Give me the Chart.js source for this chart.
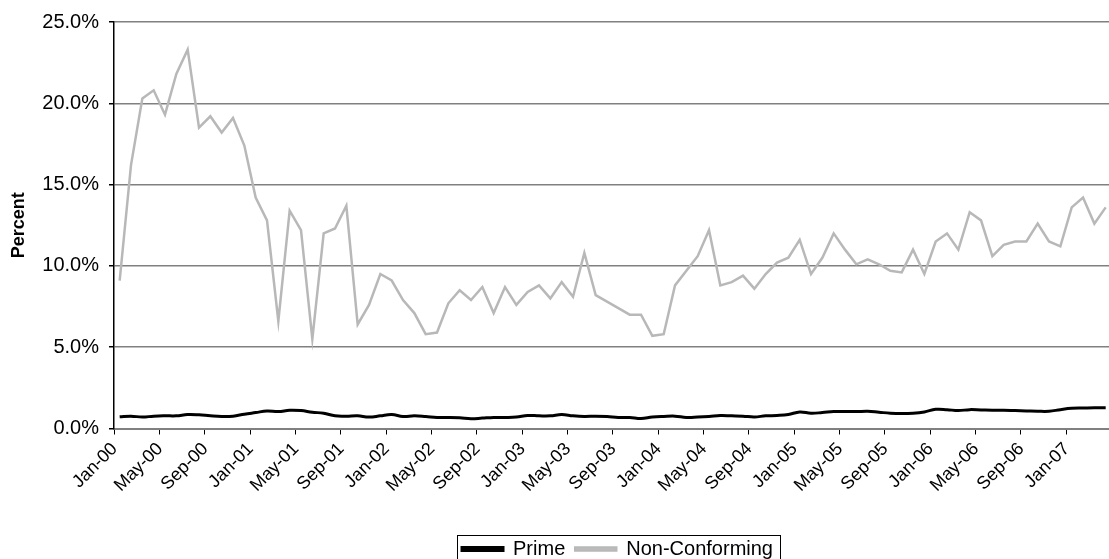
<!DOCTYPE html>
<html>
<head>
<meta charset="utf-8">
<title>Prime vs Non-Conforming</title>
<script src="https://cdn.jsdelivr.net/npm/chart.js@4"></script>
<style>
    html, body { margin: 0; padding: 0; background: #fff; overflow: hidden; }
    #wrap { width: 1109px; height: 559px; overflow: hidden; }
</style>
</head>
<body>
<div id="wrap"><canvas id="myChart" width="1125" height="569"></canvas></div>
<script>
const months = [
    'Jan-00', 'Feb-00', 'Mar-00', 'Apr-00', 'May-00', 'Jun-00', 'Jul-00', 'Aug-00', 'Sep-00', 'Oct-00', 'Nov-00', 'Dec-00',
    'Jan-01', 'Feb-01', 'Mar-01', 'Apr-01', 'May-01', 'Jun-01', 'Jul-01', 'Aug-01', 'Sep-01', 'Oct-01', 'Nov-01', 'Dec-01',
    'Jan-02', 'Feb-02', 'Mar-02', 'Apr-02', 'May-02', 'Jun-02', 'Jul-02', 'Aug-02', 'Sep-02', 'Oct-02', 'Nov-02', 'Dec-02',
    'Jan-03', 'Feb-03', 'Mar-03', 'Apr-03', 'May-03', 'Jun-03', 'Jul-03', 'Aug-03', 'Sep-03', 'Oct-03', 'Nov-03', 'Dec-03',
    'Jan-04', 'Feb-04', 'Mar-04', 'Apr-04', 'May-04', 'Jun-04', 'Jul-04', 'Aug-04', 'Sep-04', 'Oct-04', 'Nov-04', 'Dec-04',
    'Jan-05', 'Feb-05', 'Mar-05', 'Apr-05', 'May-05', 'Jun-05', 'Jul-05', 'Aug-05', 'Sep-05', 'Oct-05', 'Nov-05', 'Dec-05',
    'Jan-06', 'Feb-06', 'Mar-06', 'Apr-06', 'May-06', 'Jun-06', 'Jul-06', 'Aug-06', 'Sep-06', 'Oct-06', 'Nov-06', 'Dec-06',
    'Jan-07', 'Feb-07', 'Mar-07', 'Apr-07'
];

// delinquency rates, percent
const prime = [
    0.72, 0.76, 0.70, 0.76, 0.78, 0.78, 0.86, 0.84, 0.78, 0.74, 0.76, 0.88,
    0.98, 1.08, 1.04, 1.12, 1.10, 1.00, 0.94, 0.78, 0.76, 0.78, 0.70, 0.78,
    0.86, 0.74, 0.78, 0.74, 0.68, 0.68, 0.66, 0.60, 0.64, 0.68, 0.68, 0.70,
    0.80, 0.78, 0.78, 0.86, 0.78, 0.74, 0.76, 0.74, 0.68, 0.68, 0.61, 0.70,
    0.74, 0.76, 0.68, 0.70, 0.74, 0.80, 0.78, 0.76, 0.71, 0.78, 0.80, 0.86,
    1.02, 0.94, 0.98, 1.04, 1.04, 1.04, 1.06, 1.00, 0.94, 0.92, 0.94, 1.02,
    1.18, 1.16, 1.10, 1.16, 1.14, 1.12, 1.12, 1.10, 1.08, 1.06, 1.06, 1.16,
    1.24, 1.26, 1.28, 1.28
];

const nonConforming = [
    9.1, 16.2, 20.3, 20.8, 19.3, 21.8, 23.3, 18.5, 19.2, 18.2, 19.1, 17.4,
    14.2, 12.8, 6.6, 13.4, 12.2, 5.5, 12.0, 12.3, 13.7, 6.4, 7.6, 9.5,
    9.1, 7.9, 7.1, 5.8, 5.9, 7.7, 8.5, 7.9, 8.7, 7.1, 8.7, 7.6,
    8.4, 8.8, 8.0, 9.0, 8.1, 10.8, 8.2, 7.8, 7.4, 7.0, 7.0, 5.7,
    5.8, 8.8, 9.7, 10.6, 12.2, 8.8, 9.0, 9.4, 8.6, 9.5, 10.2, 10.5,
    11.6, 9.5, 10.5, 12.0, 11.0, 10.1, 10.4, 10.1, 9.7, 9.6, 11.0, 9.5,
    11.5, 12.0, 11.0, 13.3, 12.8, 10.6, 11.3, 11.5, 11.5, 12.6, 11.5, 11.2,
    13.6, 14.2, 12.6, 13.6
];

const yTicks = [0, 5, 10, 15, 20, 25];

const font = 'Arial, "Liberation Sans", sans-serif';

// legend sits to the right of the canvas centre, with a thin frame round it
const legendFrame = {
    id: 'legendFrame',
    afterLayout(chart) {
        chart.legend.left += 58;
        chart.legend.right += 58;
    },
    afterDraw(chart) {
        const boxes = chart.legend.legendHitBoxes;
        if (!boxes || !boxes.length) return;
        const ctx = chart.ctx;
        let left = Math.min(...boxes.map(b => b.left)) - 5;
        let right = Math.max(...boxes.map(b => b.left + b.width)) + 7;
        let top = boxes[0].top - 4;
        let bottom = boxes[0].top + boxes[0].height + 4;
        ctx.save();
        ctx.strokeStyle = '#000';
        ctx.lineWidth = 1;
        ctx.strokeRect(Math.round(left) + 0.5, Math.round(top) + 0.5, Math.round(right - left), Math.round(bottom - top));
        ctx.restore();
    }
};

function drawChart() {
    const ctx = document.getElementById('myChart').getContext('2d');
    new Chart(ctx, {
        type: 'line',
        data: {
            labels: months,
            datasets: [{
                label: 'Prime',
                data: prime,
                borderColor: '#000',
                backgroundColor: '#000',
                borderWidth: 3,
                tension: 0.4,
                pointRadius: 0,
                fill: false
            }, {
                label: 'Non-Conforming',
                data: nonConforming,
                borderColor: '#b8b8b8',
                backgroundColor: '#c4c4c4',
                borderWidth: 2.5,
                tension: 0,
                pointRadius: 0,
                fill: false
            }]
        },
        options: {
            responsive: false,
            animation: false,
            layout: {
                autoPadding: false,
                padding: { top: 17, left: 0, right: 6, bottom: 0 }
            },
            plugins: {
                legend: {
                    position: 'bottom',
                    labels: {
                        color: '#000',
                        font: { family: font, size: 20 },
                        boxWidth: 41,
                        boxHeight: 3,
                        padding: 10
                    }
                },
                tooltip: { enabled: false }
            },
            scales: {
                x: {
                    offset: true,
                    afterFit: function (scale) { scale.height = 100.5; },
                    border: { color: '#808080', width: 2 },
                    grid: {
                        offset: true,
                        drawOnChartArea: false,
                        tickLength: 6,
                        tickColor: function (c) { return c.index % 4 === 0 ? '#000' : 'rgba(0,0,0,0)'; }
                    },
                    ticks: {
                        autoSkip: false,
                        minRotation: 45,
                        maxRotation: 45,
                        padding: 4,
                        labelOffset: -5,
                        color: '#000',
                        font: { family: font, size: 18 },
                        callback: function (v, i) { return i % 4 === 0 ? months[i] : ''; }
                    }
                },
                y: {
                    min: 0,
                    max: 25,
                    afterFit: function (scale) { scale.width = 114; },
                    afterBuildTicks: function (scale) { scale.ticks = yTicks.map(v => ({ value: v })); },
                    border: { color: '#000', width: 1.5 },
                    grid: {
                        color: '#808080',
                        lineWidth: 1.5,
                        tickColor: '#000',
                        tickLength: 5
                    },
                    ticks: {
                        padding: 10,
                        color: '#000',
                        font: { family: font, size: 20 },
                        callback: function (v) { return v.toFixed(1) + '%'; }
                    },
                    title: {
                        display: true,
                        text: 'Percent',
                        color: '#000',
                        font: { family: font, size: 18, weight: 'bold' },
                        padding: { top: 8, bottom: 0 }
                    }
                }
            }
        },
        plugins: [legendFrame]
    });
}

drawChart();
</script>
</body>
</html>
